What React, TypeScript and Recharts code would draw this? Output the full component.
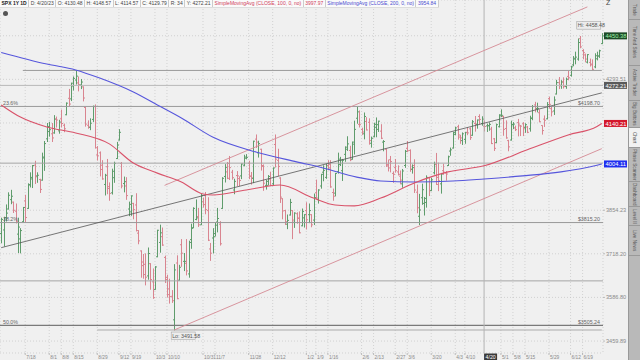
import React from 'react';
import { ComposedChart, Bar, Line, XAxis, YAxis, CartesianGrid, ReferenceLine, ReferenceDot } from 'recharts';

// SPX daily bars 7/1/22 .. 6/30/23 -> [open, high, low, close]
const bars: number[][] = [
  // Jul
  [3781, 3829, 3752, 3825], [3792, 3832, 3742, 3831], [3831, 3871, 3820, 3845], [3858, 3910, 3858, 3902], [3888, 3918, 3875, 3899],
  [3880, 3880, 3847, 3854], [3851, 3874, 3814, 3819], [3779, 3829, 3722, 3801], [3764, 3796, 3721, 3790], [3818, 3863, 3818, 3863],
  [3884, 3902, 3818, 3831], [3860, 3939, 3860, 3937], [3935, 3975, 3929, 3960], [3955, 3999, 3927, 3999], [4000, 4013, 3940, 3962],
  [3965, 3975, 3944, 3967], [3953, 3954, 3911, 3921], [3951, 4040, 3951, 4024], [4027, 4079, 3983, 4072], [4088, 4140, 4079, 4130],
  // Aug
  [4113, 4144, 4097, 4119], [4105, 4140, 4079, 4091], [4108, 4167, 4107, 4155], [4155, 4162, 4128, 4152], [4115, 4151, 4107, 4145],
  [4156, 4186, 4128, 4140], [4134, 4138, 4112, 4122], [4170, 4211, 4170, 4210], [4227, 4258, 4202, 4207], [4225, 4280, 4219, 4280],
  [4270, 4302, 4256, 4297], [4291, 4325, 4277, 4305], [4281, 4302, 4253, 4275], [4274, 4293, 4261, 4284], [4267, 4267, 4218, 4228],
  [4195, 4195, 4131, 4138], [4134, 4149, 4124, 4128], [4127, 4156, 4119, 4141], [4154, 4200, 4147, 4199], [4198, 4204, 4057, 4058],
  [4034, 4062, 4017, 4031], [4041, 4044, 3965, 3986], [4000, 4015, 3954, 3955],
  // Sep
  [3937, 3970, 3903, 3967], [3995, 4019, 3907, 3924], [3930, 3942, 3886, 3908], [3910, 3987, 3906, 3980], [3959, 4010, 3944, 4006],
  [4022, 4076, 4022, 4067], [4084, 4119, 4084, 4110], [4006, 4009, 3926, 3932], [3940, 3961, 3913, 3946], [3932, 3959, 3889, 3901],
  [3858, 3880, 3837, 3873], [3849, 3900, 3838, 3900], [3876, 3876, 3827, 3856], [3871, 3907, 3789, 3790], [3782, 3790, 3749, 3758],
  [3727, 3727, 3647, 3693], [3682, 3716, 3644, 3655], [3686, 3718, 3624, 3647], [3651, 3736, 3641, 3719], [3688, 3688, 3611, 3640],
  [3633, 3672, 3584, 3586],
  // Oct
  [3610, 3679, 3611, 3678], [3709, 3791, 3709, 3791], [3753, 3807, 3723, 3783], [3771, 3798, 3744, 3745], [3707, 3711, 3631, 3640],
  [3646, 3653, 3588, 3612], [3595, 3641, 3570, 3589], [3590, 3607, 3572, 3577], [3521, 3685, 3492, 3669], [3690, 3712, 3583, 3583],
  [3638, 3683, 3638, 3677], [3746, 3762, 3680, 3720], [3695, 3719, 3667, 3695], [3689, 3762, 3654, 3666], [3657, 3757, 3647, 3753],
  [3762, 3810, 3735, 3797], [3799, 3862, 3799, 3860], [3825, 3887, 3824, 3830], [3834, 3860, 3803, 3808], [3808, 3906, 3809, 3901],
  [3881, 3893, 3864, 3872],
  // Nov
  [3901, 3911, 3843, 3856], [3853, 3894, 3759, 3760], [3733, 3750, 3698, 3720], [3767, 3796, 3721, 3771], [3781, 3814, 3773, 3807],
  [3817, 3860, 3786, 3828], [3810, 3818, 3745, 3749], [3860, 3959, 3860, 3957], [3963, 4002, 3945, 3993], [3978, 4009, 3956, 3957],
  [4006, 4029, 3953, 3992], [3977, 3983, 3954, 3959], [3919, 3954, 3907, 3947], [3966, 3979, 3933, 3965], [3956, 3962, 3933, 3950],
  [3965, 4004, 3956, 4004], [4000, 4033, 3998, 4027], [4023, 4035, 4021, 4026], [4006, 4013, 3956, 3964], [3964, 3976, 3938, 3958],
  [3957, 4080, 3943, 4080],
  // Dec
  [4087, 4101, 4059, 4077], [4041, 4080, 4027, 4072], [4053, 4053, 3984, 3999], [3996, 4001, 3918, 3941], [3934, 3950, 3922, 3934],
  [3947, 3966, 3935, 3963], [3954, 3977, 3933, 3934], [3939, 3991, 3936, 3991], [4069, 4101, 3994, 4020], [4016, 4053, 3966, 3996],
  [3958, 3959, 3879, 3896], [3891, 3891, 3827, 3852], [3853, 3854, 3809, 3818], [3810, 3839, 3796, 3822], [3839, 3889, 3839, 3879],
  [3853, 3853, 3765, 3823], [3816, 3846, 3800, 3845], [3843, 3846, 3813, 3829], [3829, 3849, 3783, 3783], [3805, 3858, 3805, 3850],
  [3830, 3840, 3801, 3840],
  // Jan
  [3853, 3878, 3795, 3824], [3840, 3874, 3815, 3853], [3840, 3840, 3802, 3808], [3823, 3906, 3809, 3895], [3910, 3951, 3890, 3893],
  [3888, 3920, 3877, 3919], [3932, 3970, 3925, 3970], [3977, 3998, 3949, 3983], [3960, 4004, 3957, 3999], [3999, 4015, 3985, 3991],
  [4003, 4015, 3928, 3929], [3911, 3922, 3886, 3899], [3909, 3973, 3900, 3973], [3979, 4040, 3974, 4020], [4002, 4026, 3999, 4017],
  [3982, 4019, 3950, 4016], [4036, 4061, 4013, 4060], [4053, 4095, 4049, 4071], [4049, 4063, 4015, 4018], [4020, 4077, 4020, 4077],
  // Feb
  [4070, 4148, 4037, 4120], [4158, 4195, 4141, 4180], [4137, 4183, 4128, 4136], [4120, 4124, 4103, 4111], [4105, 4176, 4088, 4164],
  [4147, 4160, 4118, 4118], [4144, 4156, 4070, 4082], [4073, 4094, 4060, 4090], [4095, 4141, 4095, 4137], [4127, 4159, 4095, 4136],
  [4120, 4148, 4113, 4148], [4114, 4136, 4089, 4090], [4077, 4082, 4048, 4079], [4053, 4053, 3996, 3998], [4002, 4017, 3981, 3991],
  [4018, 4029, 3978, 4012], [3973, 3978, 3944, 3970], [3993, 4019, 3977, 3982], [3978, 3998, 3968, 3970],
  // Mar
  [3964, 3981, 3939, 3951], [3939, 3986, 3928, 3981], [3999, 4049, 3993, 4046], [4056, 4079, 4045, 4048], [4049, 4051, 3980, 3986],
  [3987, 4001, 3974, 3992], [3999, 4018, 3911, 3919], [3912, 3935, 3846, 3862], [3835, 3905, 3809, 3855], [3894, 3938, 3873, 3920],
  [3876, 3895, 3839, 3892], [3879, 3965, 3864, 3960], [3959, 3959, 3901, 3917], [3917, 3957, 3917, 3952], [3975, 4010, 3971, 4003],
  [4002, 4039, 3937, 3937], [3960, 4007, 3917, 3949], [3939, 3973, 3909, 3971], [3982, 4003, 3970, 3977], [3974, 3979, 3951, 3971],
  [3999, 4030, 3999, 4028], [4047, 4057, 4033, 4051], [4057, 4110, 4057, 4109],
  // Apr
  [4103, 4127, 4102, 4125], [4129, 4134, 4087, 4101], [4094, 4100, 4073, 4091], [4082, 4108, 4069, 4105], [4086, 4110, 4073, 4109],
  [4110, 4125, 4102, 4108], [4122, 4125, 4086, 4092], [4100, 4150, 4100, 4146], [4140, 4164, 4114, 4138], [4137, 4152, 4124, 4152],
  [4164, 4170, 4139, 4154], [4140, 4163, 4134, 4155], [4130.48, 4148.57, 4114.57, 4129.79], [4132, 4138, 4113, 4133], [4132, 4142, 4117, 4137],
  [4121, 4127, 4072, 4072], [4088, 4089, 4049, 4056], [4075, 4138, 4075, 4136], [4129, 4170, 4128, 4169],
  // May
  [4166, 4187, 4164, 4168], [4164, 4165, 4100, 4120], [4123, 4149, 4090, 4091], [4082, 4083, 4048, 4061], [4084, 4148, 4084, 4136],
  [4136, 4143, 4123, 4138], [4125, 4131, 4116, 4119], [4143, 4154, 4098, 4138], [4132, 4133, 4099, 4131], [4139, 4143, 4099, 4124],
  [4127, 4139, 4110, 4136], [4128, 4130, 4109, 4110], [4122, 4165, 4114, 4159], [4157, 4202, 4153, 4198], [4204, 4213, 4180, 4192],
  [4191, 4210, 4180, 4192], [4177, 4186, 4146, 4146], [4133, 4132, 4104, 4116], [4155, 4166, 4130, 4151], [4156, 4212, 4156, 4205],
  [4226, 4231, 4193, 4206], [4191, 4195, 4166, 4180],
  // Jun
  [4183, 4232, 4171, 4221], [4242, 4290, 4242, 4282], [4282, 4300, 4261, 4273], [4271, 4289, 4262, 4284], [4285, 4299, 4263, 4268],
  [4268, 4298, 4262, 4294], [4304, 4322, 4292, 4299], [4308, 4340, 4305, 4338], [4345, 4375, 4342, 4369], [4366, 4391, 4349, 4373],
  [4366, 4439, 4362, 4426], [4440, 4448, 4407, 4410], [4397, 4400, 4367, 4389], [4381, 4384, 4356, 4366], [4355, 4382, 4352, 4382],
  [4354, 4366, 4341, 4348], [4345, 4363, 4328, 4329], [4338, 4385, 4335, 4378], [4367, 4391, 4363, 4377], [4377, 4398, 4372, 4396],
  [4422, 4458.48, 4422, 4450.38],
];

// SMA(100) red and SMA(200) blue at these bar indexes
const redIdx = [0, 8, 19, 31, 45, 55, 65, 75, 84, 88, 102, 116, 130, 139, 147, 158, 172, 186, 201, 219, 236, 248, 250];
const redVal = [4204, 4162, 4128, 4108, 4071, 4007, 3974, 3945, 3906, 3903, 3919, 3935, 3893, 3871, 3868, 3893, 3942, 3978, 3998, 4051, 4101, 4130, 4140];
const blueIdx = [0, 19, 31, 41, 55, 65, 75, 88, 106, 123, 134, 148, 158, 172, 188, 201, 217, 233, 248, 250];
const blueVal = [4390, 4348, 4327, 4298, 4249, 4204, 4159, 4094, 4044, 4011, 3991, 3961, 3948, 3945, 3948, 3955, 3965, 3978, 4000, 4004];

const tickIdx = [10, 20, 25, 30, 40, 49, 54, 64, 69, 84, 89, 103, 113, 127, 131, 136, 150, 155, 164, 169, 179, 189, 193, 208, 213, 218, 228, 237, 242];
const tickText = ['7/18', '8/1', '8/8', '8/15', '8/29', '9/12', '9/19', '10/3', '10/10', '10/31', '11/7', '11/28', '12/12', '1/2', '1/9', '1/16', '2/6', '2/13', '2/27', '3/6', '3/20', '4/3', '4/10', '5/1', '5/8', '5/15', '5/29', '6/12', '6/19'];

const yTicks = [4531.58, 4450.8, 4371.44, 4293.51, 4216.87, 4141.9, 4067.84, 3995.6, 3924.49, 3854.23, 3785.7, 3718.2, 3651.9, 3586.8, 3522.9, 3459.89];
const yHidden = [4450.8, 4141.9, 3995.6];

// fib levels and horizontal lines
const fibPct = ['23.6%', '38.2%', '50.0%'];
const fibPrice = [4198.7, 3815.2, 3505.24];
const hLines = [4006.8, 3636];

const UP = '#5f9c6c';
const DOWN = '#d98590';
const FONT = '"Liberation Sans", Arial, sans-serif';

const redMap = new Map(redIdx.map((k, n) => [k, redVal[n]]));
const blueMap = new Map(blueIdx.map((k, n) => [k, blueVal[n]]));
const rows = bars.map((b, i) => ({ i, o: b[0], h: b[1], l: b[2], c: b[3], red: redMap.get(i), blue: blueMap.get(i) }));

function Ohlc(props: any) {
  const { x, y, width, height, payload } = props;
  if (x == null || y == null || !payload) return <g />;
  const top = Math.min(y, y + height);
  const bot = Math.max(y, y + height);
  const cx = Math.round(x + width / 2) + 0.5;
  const lh = Math.log(payload.h);
  const span = lh - Math.log(payload.l) || 1;
  const yo = top + ((lh - Math.log(payload.o)) / span) * (bot - top);
  const yc = top + ((lh - Math.log(payload.c)) / span) * (bot - top);
  const col = payload.c >= payload.o ? UP : DOWN;
  return (
    <g stroke={col} strokeWidth={1}>
      <line x1={cx} x2={cx} y1={top - 0.5} y2={bot + 0.5} />
      <line x1={cx - 1.5} x2={cx} y1={yo} y2={yo} />
      <line x1={cx} x2={cx + 1.5} y1={yc} y2={yc} />
    </g>
  );
}

function YTick(props: any) {
  const { x, y, payload } = props;
  if (yHidden.includes(payload.value)) return <g />;
  return (
    <g>
      <line x1={x} x2={x + 2} y1={y} y2={y} stroke="#999" strokeWidth={0.6} />
      <text x={x + 3} y={y + 2} fontSize={5.6} fill="#8a8a8a" fontFamily={FONT}>{payload.value.toFixed(2)}</text>
    </g>
  );
}

function XTick(props: any) {
  const { x, y, payload } = props;
  const n = tickIdx.indexOf(payload.value);
  return (
    <g>
      <line x1={x} x2={x} y1={y} y2={y + 2} stroke="#999" strokeWidth={0.6} />
      <text x={x + 1} y={y + 6.2} fontSize={4.8} fill="#8a8a8a" fontFamily={FONT}>{tickText[n]}</text>
    </g>
  );
}

const badge = (text: string, bg: string, fg: string) => (p: any) => {
  const vb = p.viewBox || {};
  const bx = (vb.x || 0) + (vb.width || 0) + 1;
  const by = vb.y || 0;
  return (
    <g>
      <rect x={bx} y={by - 3.5} width={23} height={7} fill={bg} />
      <text x={bx + 1.5} y={by + 2.2} fontSize={5.8} fill={fg} fontFamily={FONT}>{text}</text>
    </g>
  );
};

const leftLabel = (text: string) => (p: any) => {
  const vb = p.viewBox || {};
  return <text x={3} y={(vb.y || 0) - 1.5} fontSize={5.3} fill="#666" fontFamily={FONT}>{text}</text>;
};
const rightLabel = (text: string) => (p: any) => {
  const vb = p.viewBox || {};
  return <text x={(vb.x || 0) + (vb.width || 0) - 3} y={(vb.y || 0) - 1.5} fontSize={5.3} fill="#666" textAnchor="end" fontFamily={FONT}>{text}</text>;
};

const dateBox = (p: any) => {
  const vb = p.viewBox || {};
  const bx = vb.x || 0;
  const by = (vb.y || 0) + (vb.height || 0);
  return (
    <g>
      <rect x={bx} y={by + 0.5} width={13} height={6.5} fill="#3a3a3a" />
      <text x={bx + 1.5} y={by + 5.8} fontSize={5.2} fill="#fff" fontFamily={FONT}>4/20</text>
    </g>
  );
};

const hiBox = (p: any) => {
  const vb = p.viewBox || {};
  const cx = (vb.x || 0) + (vb.width || 0) / 2;
  const cy = (vb.y || 0) + (vb.height || 0) / 2;
  return (
    <g>
      <rect x={cx - 25} y={cy - 12} width={24} height={7.5} fill="#ececec" stroke="#999" strokeWidth={0.5} />
      <text x={cx - 24} y={cy - 6.3} fontSize={5.3} fill="#555" fontFamily={FONT}>Hi: 4458.48</text>
    </g>
  );
};

const loBox = (p: any) => {
  const vb = p.viewBox || {};
  const cx = (vb.x || 0) + (vb.width || 0) / 2;
  const cy = (vb.y || 0) + (vb.height || 0) / 2;
  return (
    <g>
      <rect x={cx - 3} y={cy + 2} width={24} height={7.5} fill="#ececec" stroke="#999" strokeWidth={0.5} />
      <text x={cx - 2} y={cy + 7.7} fontSize={5.3} fill="#555" fontFamily={FONT}>Lo: 3491.58</text>
    </g>
  );
};

const tabs: [string, number, number][] = [
  ['Trade', 0, 20], ['Time And Sales', 20, 66], ['Active Trader', 66, 101], ['Big Buttons', 101, 128], ['Chart', 128, 148],
  ['Phase Scanner', 148, 182], ['Dashboard', 182, 207], ['Level II', 207, 226], ['Live News', 226, 256],
];

const header: [string, string, number][] = [
  ['SPX 1Y 1D', '#222', 700], ['D: 4/20/23', '#444', 400], ['O: 4130.48', '#444', 400], ['H: 4148.57', '#444', 400],
  ['L: 4114.57', '#444', 400], ['C: 4129.79', '#444', 400], ['R: 34', '#444', 400], ['Y: 4272.21', '#444', 400],
  ['SimpleMovingAvg (CLOSE, 100, 0, no)', '#d0405a', 400], ['3997.97', '#d0405a', 400],
  ['SimpleMovingAvg (CLOSE, 200, 0, no)', '#4a4ad0', 400], ['3954.84', '#4a4ad0', 400],
];

export default function App() {
  return (
    <div style={{ position: 'relative', width: 640, height: 360, background: '#f0f0f0', overflow: 'hidden', fontFamily: FONT }}>
      <style>{'body{margin:0}'}</style>
      <div style={{ position: 'absolute', left: 0, top: 0 }}>
        <ComposedChart width={628} height={360} data={rows} margin={{ top: 0, right: 0, bottom: 0, left: 0 }}>
          <CartesianGrid stroke="#c4c4c4" strokeDasharray="1 2" strokeWidth={0.7} />
          <XAxis dataKey="i" type="category" ticks={tickIdx} interval={0} height={7} tickSize={0} tickMargin={0}
            axisLine={false} tickLine={false} tick={(p: any) => <XTick {...p} />} />
          <YAxis orientation="right" scale="log" domain={[3426, 4584]} allowDataOverflow ticks={yTicks} width={25}
            tickSize={0} tickMargin={0} axisLine={false} tickLine={false} tick={(p: any) => <YTick {...p} />} />

          <ReferenceLine segment={[{ x: 9, y: 4325.28 }, { x: 250, y: 4325.28 }]} stroke="#9a9a9a" strokeWidth={1} />
          <ReferenceLine segment={[{ x: 40, y: 3491.58 }, { x: 250, y: 3491.58 }]} stroke="#ababab" strokeWidth={1} />
          {hLines.map((v) => (
            <ReferenceLine key={v} y={v} stroke="#a6a6a6" strokeWidth={1} />
          ))}
          {fibPrice.map((v, n) => (
            <ReferenceLine key={v} y={v} stroke={n === 2 ? '#7a7a7a' : '#999'} strokeWidth={n === 2 ? 1.3 : 1} />
          ))}
          {fibPrice.map((v, n) => (
            <ReferenceLine key={'l' + v} y={v} stroke="none" label={leftLabel(fibPct[n])} />
          ))}
          {fibPrice.map((v) => (
            <ReferenceLine key={'r' + v} y={v} stroke="none" label={rightLabel('$' + v.toFixed(2))} />
          ))}

          <ReferenceLine x={201} stroke="#b4b4b4" strokeWidth={1} label={dateBox} />
          <ReferenceLine y={4272.21} stroke="#b8b8b8" strokeWidth={1} />

          <ReferenceLine segment={[{ x: 68, y: 3934 }, { x: 244, y: 4558 }]} stroke="#d58a94" strokeWidth={0.9} />
          <ReferenceLine segment={[{ x: 72, y: 3491.58 }, { x: 250, y: 4055 }]} stroke="#d58a94" strokeWidth={0.9} />
          <ReferenceLine segment={[{ x: 0, y: 3737 }, { x: 250, y: 4246 }]} stroke="#555" strokeWidth={0.8} />

          <Line dataKey="blue" type="monotone" stroke="#5656dc" strokeWidth={1.1} dot={false} connectNulls isAnimationActive={false} />
          <Line dataKey="red" type="monotone" stroke="#d9536a" strokeWidth={1.1} dot={false} connectNulls isAnimationActive={false} />
          <Bar dataKey={(r: any) => [r.l, r.h]} shape={(p: any) => <Ohlc {...p} />} isAnimationActive={false} />

          <ReferenceDot x={250} y={4458.48} r={0} fill="none" stroke="none" label={hiBox} />
          <ReferenceDot x={72} y={3491.58} r={0} fill="none" stroke="none" label={loBox} />

          <ReferenceLine y={4450.38} stroke="none" label={badge('4450.38', '#1d4a27', '#9ff0a8')} />
          <ReferenceLine y={4272.21} stroke="none" label={badge('4272.21', '#5a5a5a', '#fff')} />
          <ReferenceLine y={4140.21} stroke="none" label={badge('4140.21', '#d3172b', '#fff')} />
          <ReferenceLine y={4004.11} stroke="none" label={badge('4004.11', '#1f2ff0', '#fff')} />
        </ComposedChart>
      </div>

      <div style={{ position: 'absolute', left: 0, top: 0, height: 7, display: 'flex', background: '#fafafa', borderBottom: '1px solid #ddd' }}>
        {header.map(([t, col, w], n) => (
          <div key={n} style={{ fontSize: 5, lineHeight: '7px', padding: '0 1.5px', color: col, fontWeight: w, borderRight: '1px solid #ccc', whiteSpace: 'nowrap' }}>{t}</div>
        ))}
      </div>
      <div style={{ position: 'absolute', left: 3, top: 11, width: 5, height: 5, borderRadius: 3, background: '#555' }} />
      <div style={{ position: 'absolute', left: 606, top: -1, fontSize: 7, color: '#444' }}>Z</div>

      <div style={{ position: 'absolute', left: 628, top: 0, width: 12, height: 360, background: '#b9b9b9', borderLeft: '1px solid #999' }}>
        {tabs.map(([t, a, b]) => (
          <div key={t} style={{
            position: 'absolute', left: 0, top: a, width: 11, height: b - a, boxSizing: 'border-box',
            borderBottom: '1px solid #999', background: t === 'Chart' ? '#f2f2f2' : '#b9b9b9',
            writingMode: 'vertical-rl', fontSize: 4.6, color: '#555', display: 'flex', alignItems: 'center', justifyContent: 'center', whiteSpace: 'nowrap',
          }}>{t}</div>
        ))}
      </div>
    </div>
  );
}
